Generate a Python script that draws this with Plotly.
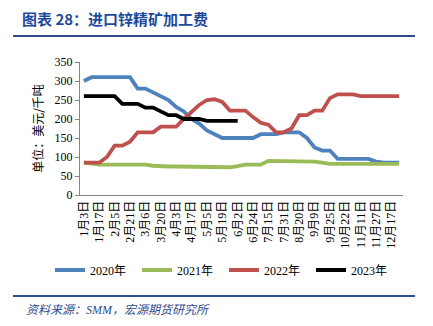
import plotly.graph_objects as go

categories = ["1月3日", "1月10日", "1月17日", "1月24日", "2月5日", "2月14日", "2月21日", "2月28日",
              "3月6日", "3月13日", "3月20日", "3月27日", "4月3日", "4月10日", "4月17日", "4月24日",
              "5月5日", "5月12日", "5月19日", "5月26日", "6月2日", "6月16日", "6月24日", "7月1日",
              "7月15日", "7月22日", "7月31日", "8月7日", "8月20日", "8月27日", "9月9日", "9月16日",
              "9月25日", "10月14日", "10月22日", "10月28日", "11月11日", "11月18日", "11月27日",
              "12月9日", "12月17日", "12月24日"]

y2020 = [300, 310, 310, 310, 310, 310, 310, 280, 280, 270, 260, 250, 232, 220, 200, 188, 170, 160,
         150, 150, 150, 150, 150, 160, 160, 160, 165, 165, 165, 150, 125, 117, 117, 95, 95, 95, 95, 95,
         88, 85, 85, 85]
y2021 = [85, 82, 80, 80, 80, 80, 80, 80, 80, 77, 75, 75, 75, 75, 73, 73, 73, 73, 73, 73, 76, 80,
         80, 80, 90, 90, 90, 90, 88, 88, 88, 85, 82, 82, 82, 82, 82, 82, 82, 82, 82, 82]
y2022 = [85, 85, 85, 100, 130, 130, 140, 165, 165, 165, 180, 180, 180, 200, 220, 237, 250, 252,
         245, 222, 222, 222, 205, 190, 185, 165, 165, 175, 210, 210, 222, 222, 255, 265, 265, 265,
         260, 260, 260, 260, 260, 260]
y2023 = [260, 260, 260, 260, 260, 240, 240, 240, 230, 230, 220, 210, 210, 200, 200, 200, 195, 195,
         195, 195, 195]

series = [("2020年", y2020, "#4F81BD"), ("2021年", y2021, "#9BBB59"),
          ("2022年", y2022, "#C0504D"), ("2023年", y2023, "#000000")]

W, H = 433, 326
L, R, T, B = 80, 403, 62, 195


def px(x):
    return (x - L) / (R - L)


def py(y):
    return (B - y) / (B - T)


fig = go.Figure()
for name, vals, color in series:
    fig.add_trace(go.Scatter(x=categories[:len(vals)], y=vals, mode="lines", name=name,
                             line=dict(color=color, width=3.8)))

tickfont = dict(family="Liberation Serif, Noto Sans CJK SC", size=12, color="#000000")
fig.update_layout(
    width=W, height=H,
    margin=dict(l=L, r=W - R, t=T, b=H - B),
    paper_bgcolor="white", plot_bgcolor="white",
    showlegend=True,
    legend=dict(orientation="h", x=px(50), y=py(270), xanchor="left", yanchor="middle",
                font=dict(family="Liberation Serif, Noto Sans CJK SC", size=12, color="#000"),
                entrywidth=42, entrywidthmode="pixels", bgcolor="rgba(0,0,0,0)",
                itemwidth=30),
    xaxis=dict(type="category", categoryorder="array", categoryarray=categories,
               range=[-0.5, len(categories) - 0.5],
               tickmode="array", tickvals=categories[::2], ticktext=categories[::2],
               tickangle=-90, tickfont=tickfont, showgrid=False, zeroline=False,
               showline=True, linecolor="#868686", linewidth=1, ticks="", ticklen=4),
    yaxis=dict(range=[0, 350], tickvals=list(range(0, 351, 50)), tickfont=tickfont,
               showgrid=False, zeroline=False, showline=True, linecolor="#868686",
               linewidth=1, ticks="outside", ticklen=4, tickcolor="#868686",
               title=dict(text="单位：美元/千吨",
                          font=dict(family="Noto Sans CJK SC", size=12, color="#000"),
                          standoff=8)),
)

fig.add_annotation(text="<b>图表 28：进口锌精矿加工费</b>", xref="paper", yref="paper",
                   x=px(20), y=py(18), xanchor="left", yanchor="middle", showarrow=False,
                   font=dict(family="Noto Sans CJK SC", size=15, color="#1F4A9C"))
fig.add_annotation(text="<i>资料来源：SMM，宏源期货研究所</i>", xref="paper", yref="paper",
                   x=px(24), y=py(310), xanchor="left", yanchor="middle", showarrow=False,
                   font=dict(family="Liberation Serif, Noto Sans CJK SC", size=12, color="#2E4D8F"))
for yy in (36, 296):
    fig.add_shape(type="line", xref="paper", yref="paper", x0=px(13), x1=px(415),
                  y0=py(yy), y1=py(yy), line=dict(color="#2E4D8F", width=2))

fig.write_html("out.html")
